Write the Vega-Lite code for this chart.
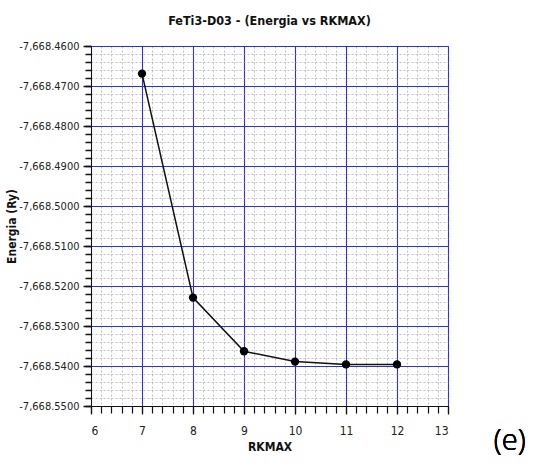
{
  "$schema": "https://vega.github.io/schema/vega-lite/v6.json",
  "autosize": "none",
  "width": 357,
  "height": 360,
  "padding": {"left": 91, "top": 46, "right": 85, "bottom": 56},
  "background": "white",
  "title": {
    "text": "FeTi3-D03 - (Energia vs RKMAX)",
    "font": "DejaVu Sans Condensed, Open Sans",
    "fontSize": 12.5,
    "fontWeight": "bold",
    "color": "#111",
    "anchor": "middle",
    "offset": 13
  },
  "config": {
    "view": {"stroke": "#333", "strokeWidth": 1},
    "axis": {
      "labelFont": "DejaVu Sans Condensed, Open Sans",
      "titleFont": "DejaVu Sans Condensed, Open Sans",
      "labelColor": "#222",
      "titleColor": "#111",
      "domainColor": "#111",
      "tickColor": "#111"
    }
  },
  "data": {
    "values": [
      {"rkmax": 7, "energia": -7668.4669},
      {"rkmax": 8, "energia": -7668.5229},
      {"rkmax": 9, "energia": -7668.5363},
      {"rkmax": 10, "energia": -7668.5389},
      {"rkmax": 11, "energia": -7668.5396},
      {"rkmax": 12, "energia": -7668.5396}
    ]
  },
  "layer": [
    {
      "mark": {"type": "line", "opacity": 0},
      "encoding": {
        "x": {
          "field": "rkmax", "type": "quantitative",
          "scale": {"domain": [6, 13], "nice": false, "zero": false},
          "axis": {
            "orient": "bottom", "tickCount": 35, "labels": false, "title": null,
            "domain": false, "ticks": true, "tickSize": 7, "tickWidth": 1.2,
            "grid": true, "gridColor": "#a8a8a8", "gridDash": [2, 2], "gridWidth": 0.7
          }
        },
        "y": {
          "field": "energia", "type": "quantitative",
          "scale": {"domain": [-7668.55, -7668.46], "nice": false, "zero": false},
          "axis": {
            "orient": "left", "tickCount": 45, "labels": false, "title": null,
            "domain": false, "ticks": true, "tickSize": 6, "tickWidth": 1.5,
            "grid": true, "gridColor": "#a8a8a8", "gridDash": [2, 2], "gridWidth": 0.7
          }
        }
      }
    },
    {
      "mark": {"type": "line", "color": "#111", "strokeWidth": 1.5},
      "encoding": {
        "x": {
          "field": "rkmax", "type": "quantitative",
          "axis": {
            "orient": "bottom", "values": [6, 7, 8, 9, 10, 11, 12, 13],
            "title": "RKMAX", "titleFontSize": 12, "titleFontWeight": "bold", "titlePadding": 5,
            "labelFontSize": 12, "labelPadding": 11, "tickSize": 8, "tickWidth": 1.2,
            "grid": true, "gridColor": "#2f2fe0", "gridWidth": 1.1
          }
        },
        "y": {
          "field": "energia", "type": "quantitative",
          "axis": {
            "orient": "left", "tickCount": 9,
            "labelExpr": "replace(format(datum.value, ',.4f'), '\u2212', '-')",
            "title": "Energia (Ry)", "titleFontSize": 12, "titleFontWeight": "bold", "titlePadding": 0,
            "labelFontSize": 11, "labelPadding": 4, "tickSize": 8, "tickWidth": 1.5,
            "grid": true, "gridColor": "#2f2fe0", "gridWidth": 1.1
          }
        }
      }
    },
    {
      "mark": {"type": "point", "filled": true, "color": "#000", "size": 70, "opacity": 1},
      "encoding": {
        "x": {"field": "rkmax", "type": "quantitative", "axis": null},
        "y": {"field": "energia", "type": "quantitative", "axis": null}
      }
    },
    {
      "mark": {"type": "text", "text": "(e)", "font": "Open Sans", "fontSize": 29, "fontWeight": 300, "color": "#000", "clip": false, "align": "center", "baseline": "middle"},
      "encoding": {
        "x": {"datum": 14.21, "type": "quantitative", "axis": null},
        "y": {"datum": -7668.5587, "type": "quantitative", "axis": null}
      }
    }
  ],
  "resolve": {"axis": {"x": "independent", "y": "independent"}}
}
